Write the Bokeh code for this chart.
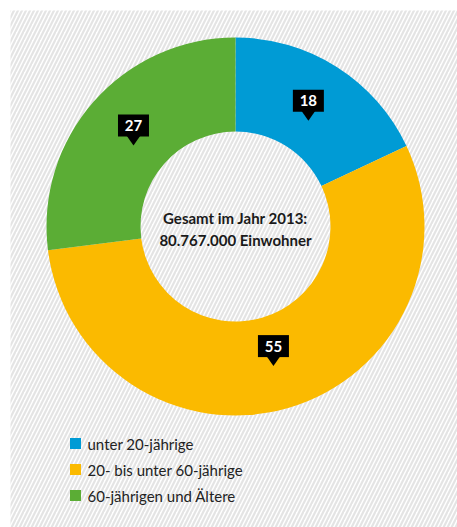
import math
from bokeh.plotting import figure
from bokeh.models import Range1d
from bokeh.core.properties import value
from bokeh.embed import file_html
from bokeh.resources import INLINE

# ---- data ----
categories = ["unter 20-jährige", "20- bis unter 60-jährige", "60-jährigen und Ältere"]
shares = [18, 55, 27]
colors = ["#009bd5", "#fbba00", "#5bad35"]
center_lines = ["Gesamt im Jahr 2013:", "80.767.000 Einwohner"]

W, H = 457, 527
CX, CY = 235, 226  # donut centre in canvas px from left/top
R_OUT, R_IN = 189, 95

p = figure(width=W, height=H, output_backend="svg", toolbar_location=None,
           x_range=Range1d(-CX, W - CX), y_range=Range1d(-(H - CY), CY),
           min_border=0, outline_line_color=None)
p.axis.visible = False
p.grid.visible = False
p.background_fill_color = "white"
p.border_fill_color = "white"

# hatched background
p.quad(left=-CX + 10, right=W - CX, top=CY - 10, bottom=-(H - CY),
       fill_color="white", line_color=None,
       hatch_pattern="/", hatch_color="#e4e4e4", hatch_scale=8, hatch_weight=2.2)

# donut
total = sum(shares)
starts, ends, mids = [], [], []
acc = 0.0
for s in shares:
    a0 = math.pi / 2 - 2 * math.pi * acc / total
    a1 = math.pi / 2 - 2 * math.pi * (acc + s) / total
    starts.append(a0)
    ends.append(a1)
    mids.append((a0 + a1) / 2)
    acc += s

p.annular_wedge(x=0, y=0, inner_radius=R_IN, outer_radius=R_OUT,
                start_angle=starts, end_angle=ends, direction="clock",
                fill_color=colors, line_color=None)

# callout labels: anchor at slice mid-angle, box above, pointer below
r_anchor = 136
ax = [r_anchor * math.cos(m) for m in mids]
ay = [r_anchor * math.sin(m) for m in mids]
by = [y + 11 for y in ay]
p.rect(x=ax, y=by, width=31, height=22, fill_color="black", line_color=None)
p.patches(xs=[[x - 7, x + 7, x] for x in ax],
          ys=[[y + 1, y + 1, y - 9] for y in ay],
          fill_color="black", line_color=None)
p.text(x=ax, y=by, text=[str(s) for s in shares], text_color="white",
       text_font=value("Lato"), text_font_style="bold", text_font_size="15px",
       text_align="center", text_baseline="middle")

# centre text
p.text(x=[0, 0], y=[9, -13], text=center_lines, text_color="#1a1a1a",
       text_font=value("Lato"), text_font_style="bold", text_font_size="15px",
       text_align="center", text_baseline="middle")

# legend
lx = -160
ly = [-217 - 26 * i for i in range(len(categories))]
p.scatter(x=[lx] * len(categories), y=ly, marker="square", size=11,
          fill_color=colors, line_color=None)
p.text(x=[lx + 12] * len(categories), y=ly, text=categories, text_color="#222222",
       text_font=value("Lato"), text_font_size="15px",
       text_align="left", text_baseline="middle")

open("out.html", "w").write(file_html(p, INLINE))
